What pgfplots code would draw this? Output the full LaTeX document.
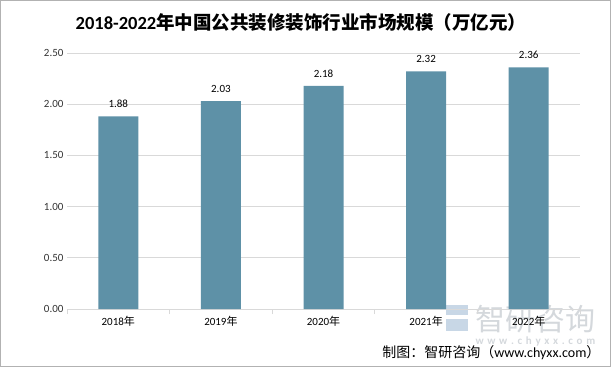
\documentclass[border=0pt]{standalone}
\usepackage{fontspec}
\setmainfont{Carlito}
\newfontfamily\cjk{Noto Sans CJK SC}
\usepackage{pgfplots}
\pgfplotsset{compat=1.18}
\definecolor{barc}{RGB}{94,145,167}
\definecolor{gridc}{RGB}{217,217,217}
\definecolor{wm}{RGB}{212,216,220}
\definecolor{wmb}{RGB}{200,215,230}
\begin{document}
\begin{tikzpicture}[x=1bp,y=1bp]
\draw[draw=gray!60,line width=1bp] (0.5,0.5) rectangle (610.5,366.5);
\node[wm, font=\cjk\fontsize{30bp}{32bp}\selectfont, anchor=west] at (472,48) {智研咨询};
\node[wm, font=\fontsize{11bp}{13bp}\selectfont\bfseries, anchor=west] at (472,25) {w\,\,w\,\,w\,\,.\,\,c\,\,h\,\,y\,\,x\,\,x\,\,.\,\,c\,\,o\,\,m};
\fill[wmb] (446,52) rectangle (468,62);
\fill[wmb] (446,36) rectangle (468,48);
\begin{axis}[
  at={(67bp,58bp)}, anchor=south west,
  scale only axis, width=513bp, height=256bp,
  xmin=-0.5, xmax=4.5, ymin=0, ymax=2.5,
  ytick={0,0.5,1,1.5,2,2.5},
  yticklabel style={/pgf/number format/fixed,/pgf/number format/precision=2,/pgf/number format/fixed zerofill,font=\fontsize{11bp}{13bp}\selectfont, color=black!80},
  /pgf/number format/assume math mode=true,
  xtick={0,1,2,3,4},
  xticklabels={2018{\cjk 年},2019{\cjk 年},2020{\cjk 年},2021{\cjk 年},2022{\cjk 年}},
  xticklabel style={font=\fontsize{11bp}{13bp}\selectfont, yshift=-4bp},
  major tick length=0pt,
  extra x ticks={-0.5,0.5,1.5,2.5,3.5,4.5},
  extra x tick labels={},
  extra x tick style={major tick length=5bp, tick align=outside, tick style={gridc, line width=1bp}, grid=none},
  ymajorgrids, grid style={gridc, line width=0.8bp},
  axis x line*=bottom, axis y line=left,
  x axis line style={gridc, line width=1bp, -},
  y axis line style={draw=none},
  ybar, bar width=40bp,
  nodes near coords,
  nodes near coords style={font=\fontsize{11bp}{13bp}\selectfont, /pgf/number format/fixed,/pgf/number format/precision=2,/pgf/number format/fixed zerofill, yshift=5bp},
  clip=false,
]
\addplot[fill=barc, draw=none] coordinates {(0,1.88) (1,2.03) (2,2.18) (3,2.32) (4,2.36)};
\end{axis}
\node[font=\cjk\fontsize{18.5bp}{21bp}\selectfont\bfseries] at (301,345) {\fontspec{Carlito}\bfseries 2018-2022\cjk\bfseries 年中国公共装修装饰行业市场规模（万亿元）};
\node[font=\fontsize{14bp}{16bp}\selectfont, anchor=east] at (604,14) {{\cjk 制图：智研咨询（}www.chyxx.com{\cjk ）}};
\end{tikzpicture}
\end{document}
